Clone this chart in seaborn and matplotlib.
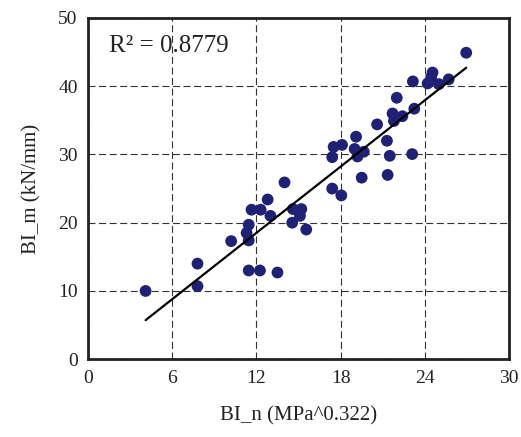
import matplotlib
matplotlib.use('Agg')
import matplotlib.pyplot as plt
import numpy as np
import pandas as pd
import seaborn as sns

# BI_n values (x)
bi_n = [4.1, 7.8, 7.8, 10.2, 11.3, 11.45, 11.45, 11.65, 12.3, 12.8,
        13.0, 14.0, 11.45, 12.25, 13.5, 14.6, 15.2, 15.1, 14.55, 15.55,
        17.4, 18.05, 17.4, 17.5, 18.1, 19.1, 19.0, 19.2, 19.65, 19.5,
        20.6, 21.3, 21.5, 21.35, 21.7, 21.8, 22.4, 22.0, 23.25, 23.1,
        23.15, 24.2, 24.55, 24.45, 25.0, 25.7, 26.95]

# BI_m values (y)
bi_m = [10.0, 14.0, 10.7, 17.3, 18.5, 17.4, 19.7, 21.9, 21.9, 23.4,
        21.0, 25.9, 13.0, 13.0, 12.7, 22.0, 22.0, 21.0, 20.0, 19.0,
        25.0, 24.0, 29.6, 31.1, 31.4, 32.6, 30.8, 29.7, 30.4, 26.6,
        34.4, 32.0, 29.8, 27.0, 36.0, 34.9, 35.6, 38.3, 36.7, 30.05,
        40.7, 40.4, 42.0, 41.3, 40.3, 41.0, 44.9]

x_ticks = [0, 6, 12, 18, 24, 30]
y_ticks = [0, 10, 20, 30, 40, 50]
r2_label = 'R\u00b2 = 0.8779'

df = pd.DataFrame({'BI_n': bi_n, 'BI_m': bi_m})

sns.set_style('white')
plt.rcParams['font.family'] = ['Liberation Serif', 'DejaVu Serif']

fig = plt.figure(figsize=(5.21, 4.37), dpi=100)
ax = fig.add_axes([0.169, 0.178, 0.808, 0.781])

sns.regplot(data=df, x='BI_n', y='BI_m', ax=ax, ci=None,
            scatter_kws={'s': 72, 'color': '#1f2274', 'alpha': 1,
                         'edgecolor': 'none', 'zorder': 3},
            line_kws={'color': 'black', 'linewidth': 1.6, 'zorder': 4})

ax.set_xlim(0, 30)
ax.set_ylim(0, 50)
ax.set_xticks(x_ticks)
ax.set_yticks(y_ticks)
ax.grid(True, linestyle=(0, (6.3, 3.2)), color='#333333', linewidth=0.8)
ax.set_axisbelow(True)
for sp in ax.spines.values():
    sp.set_color('#222222')
    sp.set_linewidth(2.0)
ax.tick_params(direction='inout', length=7, width=1.5, colors='#222222',
               labelcolor='#222222', labelsize=14, pad=4)

ax.set_xlabel('BI_n (MPa^0.322)', fontsize=15, color='#222222', labelpad=14)
ax.set_ylabel('BI_m (kN/mm)', fontsize=15, color='#222222', labelpad=12)
ax.text(0.05, 0.9, r2_label, transform=ax.transAxes, fontsize=18,
        color='#222222')

plt.savefig('out.png', dpi=100)
plt.close(fig)
